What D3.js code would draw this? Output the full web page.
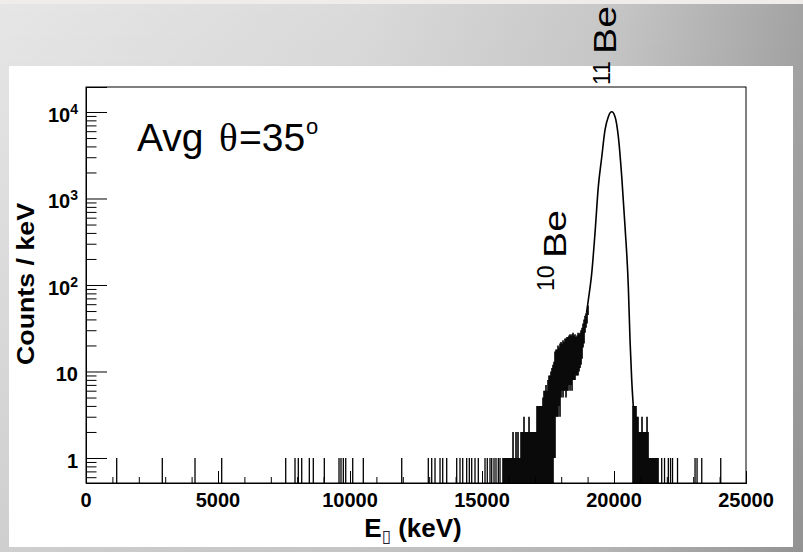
<!DOCTYPE html>
<html><head><meta charset="utf-8">
<script src="https://cdn.jsdelivr.net/npm/d3@7"></script>
<style>html,body{margin:0;padding:0;background:#d0d0d0;} svg{display:block}</style>
</head><body>
<svg id="c" width="803" height="552"></svg>
<script>
// ---------------- DATA ----------------
const xTicks = [0, 5000, 10000, 15000, 20000, 25000];
const xTickLabels = ["0", "5000", "10000", "15000", "20000", "25000"];
const yTicks = [1, 10, 100, 1000, 10000];
const yTickBase = ["1", "10", "10", "10", "10"];
const yTickExp = ["", "", "2", "3", "4"];

// isolated bins holding a single count (keV)
const singleE = [1163, 2890, 4129, 5140, 7565, 7917, 8042, 8171, 8459, 8610, 9027,
  9584, 9659, 9747, 9838, 10103, 10504, 11959, 12966, 13095, 13220, 13410, 13512,
  13663, 14042, 14167, 14270, 14420, 14520, 14610, 14735, 14860, 15114, 15200,
  15303, 15368, 15455, 15530, 15618, 15682,
  21807, 21914, 22058, 22141, 22217, 22406, 23070, 23146, 23324, 24043];

// dense low-energy tail: energy column, lowest and highest count in the column (0 = empty bin)
const tailE = [15796,15834,15872,15910,15948,15986,16023,16061,16099,16137,16175,16213,16251,16288,
  16326,16364,16402,16440,16478,16516,16553,16591,16629,16667,16705,16743,16781,16819,16856,16894,
  16932,16970,17008,17046,17084,17121,17159,17197,17235,17273,17311,17349,17387,17424,17462,17500,
  17538,17576,17614,17652,17690,17728,17765,17803,17841,17879,17917,17955,17993,18031,18069,18107,
  18144,18182,18220,18258,18296,18334,18372,18410,18448,18486,18523,18561,18599,18637,18675,18713,
  18751,18789,18827,18865,18902,18940,18978,19016];
const tailLo = [0,0,0,0,0,0,0,0,0,0,0,0,0,0,0,0,0,0,0,0,0,0,0,0,0,0,0,0,0,0,0,0,0,0,0,0,0,0,0,0,
  0,0,0,0,0,0,0,0,0,0,0,1,1,3,3,3,4,3,5,6,5,6,6,5,6,6,7,6,7,6,8,8,8,9,9,9,10,11,12,14,19,21,28,32,36,45];
const tailHi = [1,1,1,1,1,1,1,1,1,1,2,1,1,2,1,2,1,1,2,2,2,3,2,2,2,2,3,2,2,2,2,2,2,2,4,4,4,4,4,4,
  5,6,6,7,6,8,9,9,10,11,12,13,17,18,18,20,19,21,22,21,23,22,24,24,25,25,26,27,26,27,28,26,27,25,26,28,
  27,28,30,32,36,40,44,47,50,58];

// main 11Be peak
const peakE = [18960, 19027, 19156, 19281, 19406, 19535, 19660, 19785, 19914, 20039, 20164, 20293,
  20418, 20543, 20607, 20671, 20732];
const peakCounts = [48, 67, 136, 400, 1370, 3000, 6200, 8830, 10070, 8830, 5190, 1790, 472, 95, 23, 8, 3.9];

// high-energy tail columns
const rightE = [20720,20758,20796,20834,20872,20910,20948,20985,21023,21061,21099,21137,21175,21213,
  21251,21289,21327,21365,21402,21440,21478,21516,21554,21592,21630,21668];
const rightLo = [0,0,0,0,0,0,0,0,0,0,0,0,0,0,0,0,0,0,0,0,0,0,0,0,0,0];
const rightHi = [4,4,4,4,3,3,2,2,2,3,2,2,2,2,3,2,1,1,1,1,1,1,1,1,1,1];

// ---------------- DRAW ----------------
const W = 803, H = 552;
const svg = d3.select("#c");
const defs = svg.append("defs");
const gh = defs.append("linearGradient").attr("id", "bgH").attr("x1", 0).attr("x2", 1).attr("y1", 0).attr("y2", 0);
[[0, "#e6e6e6"], [0.45, "#dadada"], [0.75, "#c8c8c8"], [1, "#a3a3a3"]].forEach(s =>
  gh.append("stop").attr("offset", s[0]).attr("stop-color", s[1]));
const gv = defs.append("linearGradient").attr("id", "bgV").attr("x1", 0).attr("x2", 0).attr("y1", 0).attr("y2", 1);
[[0, "rgba(0,0,0,0)"], [1, "rgba(0,0,0,0.1)"]].forEach(s =>
  gv.append("stop").attr("offset", s[0]).attr("stop-color", s[1]));
svg.append("rect").attr("width", W).attr("height", H).attr("fill", "url(#bgH)");
svg.append("rect").attr("width", W).attr("height", H).attr("fill", "url(#bgV)");
svg.append("rect").attr("width", W).attr("height", 4).attr("fill", "#efedeb");
// white canvas
svg.append("rect").attr("x", 9).attr("y", 66).attr("width", 784).attr("height", 481).attr("fill", "#ffffff");

const L = 86, R = 746, T = 87, B = 483;
const x = d3.scaleLinear().domain([0, 25000]).range([L, R]);
const y = d3.scaleLog().domain([0.514, 19450]).range([B, T]);

const g = svg.append("g");
const yOf = v => v <= 0 ? B : y(v);

// sparse single counts
g.selectAll("line.single").data(singleE).join("line").attr("class", "single")
  .attr("x1", d => x(d)).attr("x2", d => x(d)).attr("y1", B).attr("y2", y(1))
  .attr("stroke", "#000").attr("stroke-width", 1.3);

// dense columns
const cols = tailE.map((e, i) => ({e, lo: tailLo[i], hi: tailHi[i]}))
  .concat(rightE.map((e, i) => ({e, lo: rightLo[i], hi: rightHi[i]})));
g.selectAll("line.col").data(cols).join("line").attr("class", "col")
  .attr("x1", d => x(d.e)).attr("x2", d => x(d.e))
  .attr("y1", d => yOf(d.lo)).attr("y2", d => y(d.hi))
  .attr("stroke", "#000").attr("stroke-width", 1.6);

// peak
const peak = peakE.map((e, i) => [e, peakCounts[i]]);
g.append("path").datum(peak)
  .attr("d", d3.line().x(d => x(d[0])).y(d => y(d[1])).curve(d3.curveMonotoneX))
  .attr("fill", "none").attr("stroke", "#000").attr("stroke-width", 1.6);

// frame
svg.append("rect").attr("x", L).attr("y", T).attr("width", R - L).attr("height", B - T)
  .attr("fill", "none").attr("stroke", "#000").attr("stroke-width", 1);

// x axis ticks
const xMinor = d3.range(0, 25001, 1000).filter(v => v % 5000 !== 0);
const ax = svg.append("g").attr("transform", `translate(0,${B})`);
ax.call(d3.axisBottom(x).tickValues(xTicks).tickSize(-12).tickFormat(""));
ax.append("g").call(d3.axisBottom(x).tickValues(xMinor).tickSize(-6).tickFormat(""));
ax.selectAll(".domain").attr("stroke", "#000");
ax.selectAll(".tick line").attr("stroke", "#000");

// y axis ticks
const yMinor = [];
[0.1, 1, 10, 100, 1000, 10000].forEach(d => { for (let k = 2; k <= 9; k++) { const v = d * k; if (v >= 0.514 && v <= 19450) yMinor.push(v); } });
const ay = svg.append("g").attr("transform", `translate(${L},0)`);
ay.call(d3.axisLeft(y).tickValues(yTicks).tickSize(-21).tickFormat(""));
ay.append("g").call(d3.axisLeft(y).tickValues(yMinor).tickSize(-10.5).tickFormat(""));
ay.selectAll(".domain").attr("stroke", "#000");
ay.selectAll(".tick line").attr("stroke", "#000");

// tick labels
const FB = "'Liberation Sans', Arial, sans-serif";
svg.append("g").selectAll("text").data(xTicks).join("text")
  .attr("x", d => x(d)).attr("y", 507).attr("text-anchor", "middle")
  .attr("font-family", FB).attr("font-weight", "bold").attr("font-size", 20)
  .text((d, i) => xTickLabels[i]);

const yl = svg.append("g").selectAll("text").data(yTicks).join("text")
  .attr("x", 78).attr("y", d => y(d) + 10).attr("text-anchor", "end")
  .attr("font-family", FB).attr("font-weight", "bold").attr("font-size", 20);
yl.append("tspan").text((d, i) => yTickBase[i]);
yl.append("tspan").attr("font-size", 14).attr("dy", -8).text((d, i) => yTickExp[i]);

// axis titles
const xt = svg.append("text").attr("x", 413).attr("y", 537).attr("text-anchor", "middle")
  .attr("font-family", FB).attr("font-weight", "bold").attr("font-size", 26);
xt.append("tspan").text("E");
xt.append("tspan").attr("font-family", "'DejaVu Sans'").attr("font-weight", "normal").attr("font-size", 17).attr("dy", 5).attr("fill", "#223").text("\u25AF");
xt.append("tspan").attr("dy", -5).text(" (keV)");

svg.append("text").attr("transform", "translate(34,284) rotate(-90)").attr("text-anchor", "middle")
  .attr("font-family", FB).attr("font-weight", "bold").attr("font-size", 23)
  .attr("textLength", 162).attr("lengthAdjust", "spacingAndGlyphs").text("Counts / keV");

// annotation text
const FS = FB;
svg.append("text").attr("x", 137).attr("y", 151).attr("font-family", FS).attr("font-size", 39).text("Avg");
svg.append("text").attr("x", 219).attr("y", 151).attr("font-family", "'Liberation Serif', serif").attr("font-size", 39).text("\u03B8");
svg.append("text").attr("x", 239).attr("y", 151).attr("font-family", FS).attr("font-size", 39).text("=35");
svg.append("text").attr("x", 306).attr("y", 134).attr("font-family", FS).attr("font-size", 22).text("o");

// isotope labels (rotated)
function isoLabel(bx, by, sup, supDx, supShift) {
  const gg = svg.append("g");
  gg.append("text").attr("transform", `translate(${bx},${by}) rotate(-90)`)
    .attr("font-family", FS).attr("font-size", 31)
    .attr("textLength", 48).attr("lengthAdjust", "spacingAndGlyphs").text("Be");
  gg.append("text").attr("transform", `translate(${bx - supShift},${by + supDx}) rotate(-90)`)
    .attr("font-family", FS).attr("font-size", 23).text(sup);
}
isoLabel(616, 54, "11", 31, 6);
isoLabel(566, 258, "10", 33, 12);
</script>
</body></html>
